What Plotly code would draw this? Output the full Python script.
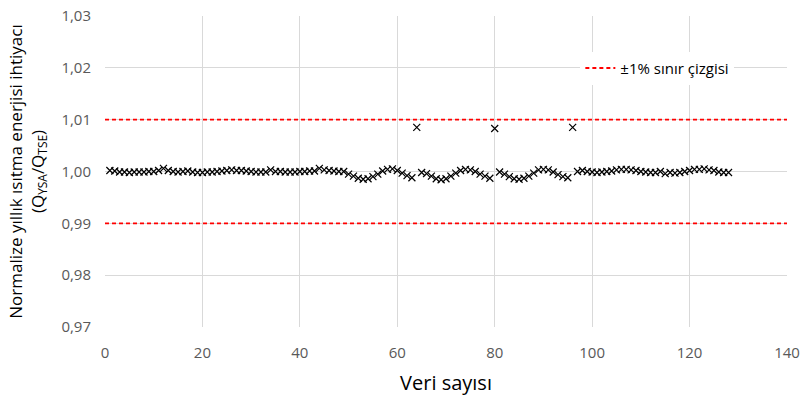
import plotly.graph_objects as go

veri = list(range(1, 129))
oran = [
    1.0002, 1.0001, 0.9999, 0.9999, 0.9998, 0.9999, 0.9999, 0.9999, 1.0000, 1.0000,
    1.0002, 1.0006, 1.0002, 1.0000, 0.9999, 1.0000, 1.0001, 0.9999, 0.9998, 0.9998,
    0.9999, 0.9999, 1.0000, 1.0001, 1.0002, 1.0003, 1.0002, 1.0002, 1.0001, 1.0000,
    0.9999, 0.9999, 0.9999, 1.0003, 1.0000, 1.0000, 0.9999, 0.9999, 0.9999, 1.0000,
    1.0000, 1.0001, 1.0001, 1.0006, 1.0003, 1.0002, 1.0001, 1.0000, 1.0000, 0.9995,
    0.9991, 0.9987, 0.9985, 0.9986, 0.9990, 0.9995, 1.0001, 1.0004, 1.0005, 1.0002,
    0.9997, 0.9992, 0.9988, 1.0085, 0.9998, 0.9996, 0.9991, 0.9986, 0.9984, 0.9986,
    0.9991, 0.9997, 1.0002, 1.0004, 1.0003, 1.0000, 0.9995, 0.9991, 0.9987, 1.0083,
    0.9999, 0.9995, 0.9990, 0.9986, 0.9985, 0.9987, 0.9991, 0.9997, 1.0003, 1.0004,
    1.0003, 0.9999, 0.9994, 0.9990, 0.9988, 1.0085, 1.0000, 1.0002, 1.0000, 0.9999,
    0.9998, 0.9999, 1.0000, 1.0001, 1.0003, 1.0004, 1.0004, 1.0003, 1.0002, 1.0000,
    0.9999, 0.9998, 0.9998, 1.0000, 0.9996, 0.9998, 0.9997, 0.9998, 1.0000, 1.0002,
    1.0004, 1.0004, 1.0005, 1.0003, 1.0002, 0.9999, 0.9998, 0.9998,
]
sinir_x = [0, 140, None, 0, 140]
sinir_y = [1.01, 1.01, None, 0.99, 0.99]
y_ticks = [0.97, 0.98, 0.99, 1.00, 1.01, 1.02, 1.03]
y_labels = ["0,97", "0,98", "0,99", "1,00", "1,01", "1,02", "1,03"]
x_ticks = [0, 20, 40, 60, 80, 100, 120, 140]

font_fam = "Open Sans, Liberation Sans, sans-serif"

fig = go.Figure()
fig.add_trace(go.Scatter(
    x=veri, y=oran, mode="markers", showlegend=False,
    marker=dict(symbol="x-thin", size=7, color="black",
                line=dict(width=1.2, color="black")),
))
fig.add_trace(go.Scatter(
    x=sinir_x, y=sinir_y, mode="lines", name="±1% sınır çizgisi",
    line=dict(color="#ff0000", width=1.8, dash="4px,3px"),
))

fig.update_layout(
    width=801, height=396,
    margin=dict(l=105, r=14, t=16, b=69),
    paper_bgcolor="white", plot_bgcolor="white",
    font=dict(family=font_fam, color="#595959", size=15),
    legend=dict(x=0.697, y=0.832, xanchor="left", yanchor="middle",
                bgcolor="white", font=dict(size=15, color="#000000"),
                itemwidth=30),
    xaxis=dict(range=[0, 140], tickvals=x_ticks, showgrid=True,
               gridcolor="#d9d9d9", gridwidth=1, zeroline=False,
               showline=False, ticks="outside", ticklen=12, tickcolor="rgba(0,0,0,0)",
               automargin=False,
               tickfont=dict(size=15, color="#595959"),
               title=dict(text="Veri sayısı", font=dict(size=20, color="#000000"),
                          standoff=18)),
    yaxis=dict(range=[0.97, 1.03], tickvals=y_ticks, ticktext=y_labels,
               showgrid=True, gridcolor="#d9d9d9", gridwidth=1,
               zeroline=False, showline=False, ticks="outside", ticklen=10,
               tickcolor="rgba(0,0,0,0)", automargin=False,
               tickfont=dict(size=15, color="#595959"),
               title=dict(text="Normalize yıllık ısıtma enerjisi ihtiyacı<br>(Q<sub>YSA</sub>/Q<sub>TSE</sub>)",
                          font=dict(size=17, color="#000000"), standoff=12)),
)

fig.write_html("out.html")
